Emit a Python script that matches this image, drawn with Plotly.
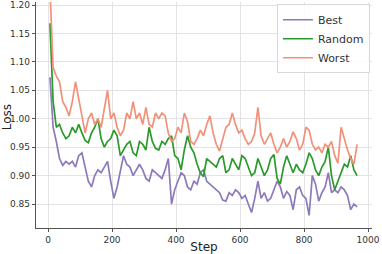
import plotly.graph_objects as go

steps = list(range(6, 967, 10))

best = [1.073, 0.985, 0.96, 0.93, 0.918, 0.925, 0.92, 0.925, 0.915, 0.935,
        0.94, 0.915, 0.89, 0.88, 0.9, 0.91, 0.905, 0.915, 0.925, 0.89,
        0.86, 0.88, 0.91, 0.935, 0.92, 0.915, 0.9, 0.91, 0.92, 0.91,
        0.895, 0.89, 0.91, 0.905, 0.9, 0.895, 0.91, 0.93, 0.85, 0.875,
        0.89, 0.905, 0.9, 0.88, 0.875, 0.89, 0.885, 0.905, 0.91, 0.89,
        0.885, 0.88, 0.875, 0.87, 0.857, 0.855, 0.87, 0.865, 0.875, 0.87,
        0.86, 0.865, 0.85, 0.835, 0.86, 0.89, 0.86, 0.87, 0.855, 0.86,
        0.875, 0.89, 0.88, 0.86, 0.872, 0.865, 0.84, 0.875, 0.88, 0.865,
        0.86, 0.83, 0.9, 0.885, 0.855, 0.87, 0.88, 0.905, 0.87, 0.875,
        0.87, 0.88, 0.875, 0.865, 0.84, 0.85, 0.845]

random_ = [1.168, 1.03, 0.985, 0.99, 0.975, 0.965, 0.97, 0.985, 0.975, 0.99,
           0.975, 0.962, 0.958, 0.975, 0.985, 1.0, 0.965, 0.95, 0.96, 0.965,
           0.98, 0.97, 0.935, 0.945, 0.955, 0.96, 0.94, 0.935, 0.96, 0.955,
           0.945, 0.985, 0.96, 0.948, 0.945, 0.96, 0.955, 0.965, 0.97, 0.935,
           0.93, 0.91, 0.945, 0.97, 0.95, 0.94, 0.92, 0.905, 0.898, 0.93,
           0.925, 0.92, 0.915, 0.93, 0.935, 0.905, 0.91, 0.93, 0.92, 0.91,
           0.935, 0.93, 0.915, 0.9, 0.905, 0.93, 0.915, 0.9, 0.91, 0.93,
           0.937, 0.895, 0.885, 0.915, 0.935, 0.918, 0.905, 0.92, 0.91, 0.905,
           0.92, 0.94, 0.93, 0.91, 0.9, 0.915, 0.925, 0.95, 0.9, 0.875,
           0.89, 0.905, 0.92, 0.915, 0.935, 0.91, 0.9]

worst = [1.23, 1.09, 1.075, 1.065, 1.03, 1.02, 1.005, 1.03, 1.065, 1.035,
         1.01, 0.975, 1.0, 1.01, 0.99, 1.0, 0.985, 1.02, 1.05, 1.0,
         1.01, 0.985, 0.97, 0.98, 1.01, 1.0, 1.03, 1.0, 1.01, 0.99,
         1.02, 0.99, 0.985, 1.01, 1.0, 1.01, 1.005, 0.975, 0.96, 0.965,
         0.985, 0.975, 1.01, 0.995, 0.96, 0.955, 0.965, 0.98, 0.97, 0.99,
         1.005, 0.975, 0.955, 0.943, 0.965, 0.985, 0.99, 1.01, 0.99, 0.975,
         0.98, 0.965, 0.955, 0.96, 0.975, 1.02, 0.97, 0.955, 0.965, 0.975,
         0.955, 0.94, 0.95, 0.965, 0.95, 0.96, 0.977, 0.965, 0.945, 0.955,
         0.985, 0.98, 0.955, 0.945, 0.95, 0.94, 0.955, 0.95, 0.96, 0.935,
         0.922, 0.985, 0.965, 0.945, 0.93, 0.92, 0.955]

names = ["Best", "Random", "Worst"]
colors = ["#8e79bb", "#2a9a2a", "#f2917a"]
series = [best, random_, worst]

y_ticks = [0.85, 0.90, 0.95, 1.00, 1.05, 1.10, 1.15, 1.20]
x_ticks = [0, 200, 400, 600, 800, 1000]

fig = go.Figure()
for name, vals, col in zip(names, series, colors):
    fig.add_trace(go.Scatter(x=steps, y=vals, mode="lines", name=name,
                             line=dict(color=col, width=1.7)))

axis_common = dict(showline=True, linecolor="#555555", linewidth=1.3,
                   showgrid=True, gridcolor="#e3e3e3", gridwidth=1,
                   zeroline=False, ticks="outside", ticklen=3,
                   tickcolor="#555555", tickfont=dict(size=9, color="#333333"),
                   mirror=False, automargin=False)

fig.update_layout(
    width=382, height=254,
    margin=dict(l=36, r=10, t=2, b=26),
    paper_bgcolor="white", plot_bgcolor="white",
    font=dict(family="DejaVu Sans", color="#222222"),
    xaxis=dict(range=[-37.5, 1012.5], tickvals=x_ticks,
               title=dict(text="Step", font=dict(size=12), standoff=0),
               **axis_common),
    yaxis=dict(range=[0.8078, 1.2053], tickvals=y_ticks,
               ticktext=[f"{v:.2f}" for v in y_ticks],
               **axis_common),
    legend=dict(x=0.717, y=0.99, xanchor="left", yanchor="top",
                bgcolor="rgba(255,255,255,0.85)", bordercolor="#d8d8d8",
                borderwidth=1, font=dict(size=11, color="#333333"),
                tracegroupgap=0, itemwidth=30),
    showlegend=True,
    annotations=[dict(text="Loss", xref="paper", yref="paper", x=0, y=0.49,
                      xanchor="center", yanchor="middle", xshift=-29,
                      textangle=-90, showarrow=False,
                      font=dict(size=12, color="#222222"))],
)

fig.write_html("out.html", config={"displayModeBar": False},
               post_script="document.body.style.margin='0';")
